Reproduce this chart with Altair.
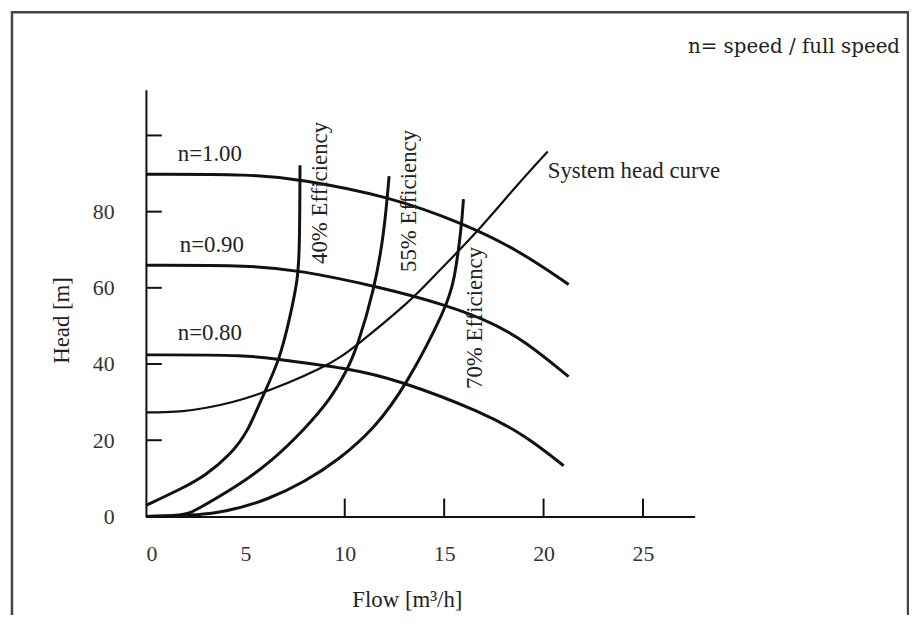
import altair as alt
import pandas as pd

# ---- data (flow in m3/h, head in m) ----
n100_flow = [0, 5.39, 7.73, 12.18, 16.02, 18.76, 21.26]
n100_head = [89.8, 89.8, 88.5, 84.1, 76.8, 69.8, 60.9]

n090_flow = [0, 5.39, 7.68, 11.63, 15.12, 17.47, 19.11, 21.26]
n090_head = [65.9, 65.9, 64.6, 60.4, 55.5, 50.8, 45.8, 36.7]

n080_flow = [0, 5.29, 6.74, 10.28, 12.62, 16.97, 19.11, 21.01]
n080_head = [42.4, 42.4, 41.1, 38.8, 35.9, 27.3, 21.1, 13.3]

sys_flow = [0, 1.5, 3.0, 5.14, 9.13, 10.48, 13.47, 14.27, 16.6, 18.61, 20.21]
sys_head = [27.3, 27.3, 28.4, 30.7, 39.3, 44.3, 57.3, 62.0, 74.2, 86.7, 95.8]

e40_flow = [0, 1.8, 2.99, 4.29, 5.14, 5.79, 6.74, 7.29, 7.63, 7.73, 7.75]
e40_head = [2.9, 7.3, 10.7, 16.4, 22.4, 30.7, 41.1, 53.4, 62.0, 69.8, 92.2]

e55_flow = [0, 2.0, 2.5, 4.64, 6.29, 7.98, 9.28, 10.13, 10.63, 11.48, 11.98, 12.23]
e55_head = [0, 0.3, 1.6, 8.1, 14.3, 22.9, 30.7, 38.5, 44.5, 59.4, 74.2, 89.3]

e70_flow = [0, 3.64, 6.29, 7.98, 9.63, 11.48, 13.12, 15.12, 15.52, 15.87, 15.97]
e70_head = [0, 0.3, 4.7, 9.1, 14.6, 22.9, 34.6, 54.9, 62.0, 75.8, 83.3]

x_tick_labels = [0, 5, 10, 15, 20, 25]
y_tick_labels = [0, 20, 40, 60, 80]
x_inner_ticks = [10, 15, 20, 25]
y_inner_ticks = [20, 40, 60, 80, 100]

speed_labels = ["n=1.00", "n=0.90", "n=0.80"]
speed_label_flow = [1.6, 1.7, 1.6]
speed_label_head = [95.1, 71.1, 48.2]

eff_labels = ["40% Efficiency", "55% Efficiency", "70% Efficiency"]
eff_label_flow = [8.78, 13.22, 16.57]
eff_label_head = [84.9, 82.8, 52.1]

sys_label = ["System head curve"]
sys_label_flow = [20.21]
sys_label_head = [90.6]


def series(name, fl, hd):
    return pd.DataFrame({"series": name, "flow": fl, "head": hd, "idx": range(len(fl))})


pump_df = pd.concat([
    series("n=1.00", n100_flow, n100_head),
    series("n=0.90", n090_flow, n090_head),
    series("n=0.80", n080_flow, n080_head),
])
sys_df = series("system", sys_flow, sys_head)
eff_df = pd.concat([
    series("40%", e40_flow, e40_head),
    series("55%", e55_flow, e55_head),
    series("70%", e70_flow, e70_head),
])

FONT = "Liberation Serif"
XD = [0, 27.6]
YD = [0, 112]

x_axis = alt.Axis(
    values=x_tick_labels, ticks=False, tickSize=0, grid=False,
    domainColor="#111", domainWidth=2,
    labelFont=FONT, labelFontSize=22, labelColor="#333", labelPadding=27,
    title="Flow [m³/h]", titleFont=FONT, titleFontSize=23, titleFontWeight="normal",
    titleColor="#222", titleX=263, titleY=84, titleAlign="center", titleBaseline="middle",
)
y_axis = alt.Axis(
    values=y_tick_labels, ticks=False, tickSize=0, grid=False,
    domainColor="#111", domainWidth=2,
    labelFont=FONT, labelFontSize=22, labelColor="#333", labelPadding=32,
    title="Head [m]", titleFont=FONT, titleFontSize=23, titleFontWeight="normal",
    titleColor="#222", titleAngle=270, titleX=-85, titleY=232,
    titleAlign="center", titleBaseline="middle",
)

xs = alt.Scale(domain=XD, nice=False, zero=False)
ys = alt.Scale(domain=YD, nice=False, zero=False)

pumps = alt.Chart(pump_df).mark_line(color="#111", strokeWidth=3, interpolate="basis").encode(
    x=alt.X("flow:Q", scale=xs, axis=x_axis),
    y=alt.Y("head:Q", scale=ys, axis=y_axis),
    detail="series:N",
    order="idx:Q",
)
system = alt.Chart(sys_df).mark_line(color="#111", strokeWidth=2.2, interpolate="basis").encode(
    x=alt.X("flow:Q", scale=xs), y=alt.Y("head:Q", scale=ys), order="idx:Q"
)
effs = alt.Chart(eff_df).mark_line(color="#111", strokeWidth=3, interpolate="basis").encode(
    x=alt.X("flow:Q", scale=xs), y=alt.Y("head:Q", scale=ys), detail="series:N", order="idx:Q"
)

xt = alt.Chart(pd.DataFrame({"flow": x_inner_ticks})).mark_rule(color="#111", strokeWidth=2).encode(
    x=alt.X("flow:Q", scale=xs), y=alt.value(430), y2=alt.value(412)
)
yt = alt.Chart(pd.DataFrame({"head": y_inner_ticks})).mark_rule(color="#111", strokeWidth=2).encode(
    y=alt.Y("head:Q", scale=ys), x=alt.value(0), x2=alt.value(16)
)

speed_txt = alt.Chart(pd.DataFrame({"t": speed_labels, "flow": speed_label_flow, "head": speed_label_head})).mark_text(
    font=FONT, fontSize=23, color="#222", align="left", baseline="middle"
).encode(x=alt.X("flow:Q", scale=xs), y=alt.Y("head:Q", scale=ys), text="t:N")

eff_txt = alt.Chart(pd.DataFrame({"t": eff_labels, "flow": eff_label_flow, "head": eff_label_head})).mark_text(
    font=FONT, fontSize=23, color="#222", align="center", baseline="middle", angle=270
).encode(x=alt.X("flow:Q", scale=xs), y=alt.Y("head:Q", scale=ys), text="t:N")

sys_txt = alt.Chart(pd.DataFrame({"t": sys_label, "flow": sys_label_flow, "head": sys_label_head})).mark_text(
    font=FONT, fontSize=23, color="#222", align="left", baseline="middle"
).encode(x=alt.X("flow:Q", scale=xs), y=alt.Y("head:Q", scale=ys), text="t:N")

note = alt.Chart(pd.DataFrame({"t": ["n= speed / full speed"]})).mark_text(
    font="DejaVu Serif", fontSize=20, color="#222", align="right", baseline="middle"
).encode(x=alt.value(760), y=alt.value(-43), text="t:N")

frame = alt.Chart(pd.DataFrame({"a": [1]})).mark_rect(
    filled=False, stroke="#444", strokeWidth=2.5
).encode(x=alt.value(-135), x2=alt.value(768), y=alt.value(-78), y2=alt.value(540))

chart = alt.layer(
    frame, pumps, system, effs, xt, yt, speed_txt, eff_txt, sys_txt, note
).properties(
    width=553, height=430,
    autosize=alt.AutoSizeParams(type="none"),
    padding={"left": 139, "top": 80, "right": 216, "bottom": 97},
).configure_view(stroke=None)

chart.save("out.html", embed_options={"renderer": "svg", "actions": False})
